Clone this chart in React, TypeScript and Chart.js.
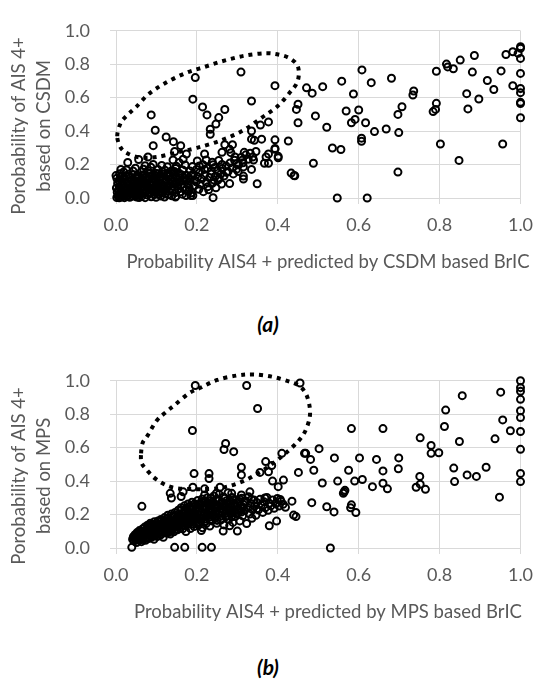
import React, { useEffect, useRef } from "react";
import { Chart, registerables } from "chart.js";

Chart.register(...registerables);

// ---------- data ----------
const axisMin = 0;
const axisMax = 1;
const axisStep = 0.2;

const xTitleA = "Probability AIS4 + predicted by CSDM based BrIC";
const yTitleA = ["Porobability of AIS 4+", "based on CSDM"];
const captionA = "(a)";

const xTitleB = "Probability AIS4 + predicted by MPS based BrIC";
const yTitleB = ["Porobability of AIS 4+", "based on MPS"];
const captionB = "(b)";

// (a) CSDM: sparse points
const csdmSparse: [number, number][] = [
  [0.471, 0.659], [0.485, 0.627], [0.511, 0.666], [0.450, 0.561], [0.446, 0.530], [0.450, 0.450],
  [0.493, 0.491], [0.521, 0.423], [0.558, 0.699], [0.608, 0.766], [0.631, 0.690], [0.587, 0.622],
  [0.569, 0.520], [0.600, 0.526], [0.591, 0.470], [0.582, 0.450], [0.617, 0.450], [0.639, 0.397],
  [0.668, 0.413], [0.699, 0.391], [0.681, 0.716], [0.697, 0.500], [0.707, 0.546], [0.736, 0.640],
  [0.734, 0.616], [0.784, 0.517], [0.790, 0.530], [0.792, 0.566], [0.792, 0.758], [0.817, 0.801],
  [0.820, 0.784], [0.834, 0.773], [0.851, 0.825], [0.886, 0.852], [0.881, 0.753], [0.867, 0.624],
  [0.870, 0.533], [0.897, 0.592], [0.918, 0.703], [0.934, 0.649], [0.952, 0.760], [0.956, 0.323],
  [0.607, 0.358], [0.607, 0.339], [0.535, 0.299], [0.556, 0.290], [0.488, 0.208], [0.442, 0.133],
  [0.697, 0.155], [0.802, 0.323], [0.848, 0.225], [0.547, 0.0], [0.621, 0.0],
  [1.0, 0.905], [1.0, 0.895], [0.994, 0.865], [1.0, 0.835], [1.0, 0.745], [1.0, 0.655], [1.0, 0.63],
  [1.0, 0.572], [1.0, 0.565], [1.0, 0.48], [0.981, 0.875], [0.964, 0.858], [0.981, 0.672],
  [0.309, 0.753], [0.196, 0.720], [0.393, 0.672], [0.335, 0.580], [0.190, 0.591], [0.214, 0.545],
  [0.225, 0.497], [0.269, 0.529], [0.254, 0.481], [0.247, 0.442], [0.233, 0.411], [0.233, 0.381],
  [0.087, 0.497], [0.097, 0.405], [0.092, 0.313], [0.124, 0.365], [0.142, 0.337], [0.160, 0.313],
  [0.145, 0.278], [0.174, 0.263], [0.166, 0.232], [0.426, 0.341], [0.377, 0.455], [0.357, 0.436],
  [0.335, 0.401], [0.335, 0.352], [0.342, 0.345], [0.360, 0.352], [0.393, 0.348], [0.393, 0.291],
  [0.401, 0.249], [0.377, 0.263], [0.371, 0.245], [0.367, 0.208], [0.377, 0.208], [0.346, 0.278],
  [0.317, 0.273], [0.313, 0.227], [0.340, 0.227], [0.335, 0.171], [0.315, 0.131], [0.349, 0.085],
  [0.288, 0.319], [0.281, 0.291], [0.269, 0.319], [0.262, 0.273], [0.284, 0.271], [0.294, 0.245],
  [0.290, 0.144], [0.273, 0.153], [0.252, 0.107], [0.261, 0.083], [0.247, 0.061], [0.240, 0.002],
  [0.219, 0.263], [0.223, 0.227], [0.215, 0.199], [0.219, 0.171], [0.240, 0.199], [0.236, 0.162],
  [0.207, 0.153], [0.186, 0.134], [0.195, 0.107], [0.178, 0.079], [0.185, 0.015], [0.190, 0.015],
  [0.147, 0.006], [0.120, 0.006], [0.433, 0.149], [0.440, 0.134], [0.141, 0.227], [0.149, 0.190],
  [0.137, 0.162], [0.079, 0.245], [0.056, 0.230], [0.029, 0.212], [0.012, 0.171], [0.0, 0.134],
  [0.298, 0.205], [0.315, 0.186], [0.302, 0.159], [0.315, 0.113], [0.229, 0.049], [0.281, 0.086],
  [0.393, 0.296], [0.401, 0.241],
];

// (a) CSDM: dense cluster near the origin
const csdmCluster: [number, number][] = [
  [0.002, 0.003], [0.005, 0.012], [0.008, 0.001], [0.011, 0.022], [0.003, 0.035], [0.014, 0.006],
  [0.018, 0.015], [0.021, 0.002], [0.006, 0.048], [0.016, 0.031], [0.024, 0.027], [0.027, 0.009],
  [0.031, 0.018], [0.009, 0.062], [0.019, 0.044], [0.034, 0.004], [0.036, 0.037], [0.029, 0.052],
  [0.041, 0.012], [0.044, 0.026], [0.013, 0.075], [0.023, 0.068], [0.039, 0.058], [0.047, 0.045],
  [0.051, 0.006], [0.054, 0.019], [0.004, 0.088], [0.033, 0.081], [0.046, 0.071], [0.058, 0.034],
  [0.061, 0.052], [0.057, 0.003], [0.064, 0.011], [0.015, 0.101], [0.026, 0.094], [0.052, 0.088],
  [0.067, 0.029], [0.069, 0.066], [0.072, 0.002], [0.075, 0.043], [0.002, 0.118], [0.037, 0.107],
  [0.043, 0.096], [0.063, 0.082], [0.078, 0.018], [0.081, 0.057], [0.084, 0.033], [0.087, 0.007],
  [0.011, 0.128], [0.022, 0.112], [0.049, 0.118], [0.058, 0.104], [0.074, 0.092], [0.089, 0.076],
  [0.092, 0.048], [0.095, 0.021], [0.099, 0.004], [0.101, 0.064], [0.104, 0.036], [0.108, 0.091],
  [0.111, 0.012], [0.114, 0.053], [0.066, 0.121], [0.081, 0.108], [0.097, 0.103], [0.118, 0.075],
  [0.121, 0.028], [0.124, 0.107], [0.127, 0.061], [0.131, 0.041], [0.134, 0.086], [0.138, 0.013],
  [0.141, 0.118], [0.144, 0.067], [0.147, 0.032], [0.151, 0.096], [0.108, 0.128], [0.088, 0.132],
  [0.071, 0.141], [0.053, 0.136], [0.031, 0.142], [0.019, 0.156], [0.042, 0.162], [0.062, 0.155],
  [0.079, 0.163], [0.098, 0.148], [0.117, 0.142], [0.135, 0.136], [0.154, 0.054], [0.158, 0.121],
  [0.161, 0.078], [0.164, 0.023], [0.168, 0.103], [0.171, 0.047], [0.174, 0.136], [0.177, 0.089],
  [0.181, 0.061], [0.184, 0.112], [0.187, 0.031], [0.191, 0.143], [0.194, 0.074], [0.198, 0.097],
  [0.202, 0.126], [0.205, 0.052], [0.208, 0.082], [0.212, 0.113], [0.216, 0.038], [0.219, 0.138],
  [0.223, 0.095], [0.227, 0.068], [0.231, 0.121], [0.235, 0.144], [0.238, 0.088], [0.242, 0.107],
  [0.246, 0.131], [0.251, 0.162], [0.255, 0.118], [0.259, 0.143], [0.263, 0.176], [0.267, 0.131],
  [0.272, 0.192], [0.277, 0.158], [0.282, 0.21], [0.288, 0.181], [0.293, 0.226], [0.298, 0.172],
  [0.303, 0.198], [0.309, 0.242], [0.314, 0.211], [0.321, 0.258], [0.327, 0.232], [0.332, 0.268],
  [0.338, 0.245], [0.009, 0.145], [0.026, 0.168], [0.048, 0.178], [0.068, 0.172], [0.086, 0.184],
  [0.104, 0.171], [0.121, 0.166], [0.139, 0.158], [0.156, 0.148], [0.113, 0.195], [0.092, 0.201],
  [0.072, 0.193], [0.127, 0.187], [0.148, 0.176], [0.165, 0.168], [0.183, 0.162], [0.199, 0.171],
  [0.171, 0.198], [0.189, 0.188], [0.206, 0.192], [0.226, 0.178], [0.244, 0.183], [0.262, 0.201],
  [0.254, 0.224], [0.238, 0.214], [0.201, 0.222], [0.156, 0.213],
];

// (a) CSDM: extra points filling the solid core of the cluster
const csdmCore: [number, number][] = [
  [0.006, 0.02], [0.013, 0.041], [0.02, 0.058], [0.028, 0.035], [0.035, 0.06], [0.04, 0.075],
  [0.048, 0.012], [0.05, 0.055], [0.055, 0.062], [0.06, 0.018], [0.062, 0.07], [0.065, 0.095],
  [0.07, 0.05], [0.073, 0.078], [0.077, 0.11], [0.08, 0.03], [0.083, 0.088], [0.086, 0.062],
  [0.09, 0.115], [0.093, 0.09], [0.096, 0.035], [0.1, 0.12], [0.103, 0.079], [0.106, 0.022],
  [0.109, 0.105], [0.112, 0.069], [0.116, 0.118], [0.119, 0.045], [0.122, 0.092], [0.125, 0.135],
  [0.128, 0.02], [0.13, 0.074], [0.133, 0.112], [0.136, 0.052], [0.139, 0.098], [0.142, 0.143],
  [0.145, 0.082], [0.148, 0.011], [0.15, 0.125], [0.153, 0.071], [0.157, 0.099], [0.16, 0.038],
  [0.163, 0.138], [0.167, 0.062], [0.17, 0.118], [0.173, 0.015], [0.176, 0.108], [0.18, 0.04],
  [0.01, 0.09], [0.017, 0.115], [0.025, 0.13], [0.034, 0.12], [0.041, 0.14], [0.046, 0.105],
  [0.056, 0.125], [0.066, 0.138], [0.075, 0.125], [0.085, 0.148], [0.095, 0.135], [0.105, 0.145],
  [0.115, 0.158], [0.128, 0.15], [0.145, 0.158],
  [0.001, 0.06], [0.007, 0.105], [0.016, 0.085], [0.022, 0.02], [0.03, 0.1], [0.038, 0.028],
  [0.043, 0.048], [0.052, 0.1], [0.058, 0.082], [0.068, 0.108], [0.076, 0.064], [0.082, 0.128],
  [0.09, 0.098], [0.1, 0.05], [0.107, 0.112], [0.115, 0.03], [0.123, 0.054], [0.132, 0.128],
];

// (b) MPS: sparse points
const mpsSparse: [number, number][] = [
  [0.196, 0.972], [0.323, 0.972], [0.350, 0.834], [0.455, 0.987], [0.189, 0.703], [0.271, 0.625],
  [0.267, 0.589], [0.291, 0.576], [0.410, 0.566], [0.370, 0.517], [0.385, 0.493], [0.377, 0.456],
  [0.356, 0.452], [0.310, 0.483], [0.310, 0.437], [0.193, 0.445], [0.230, 0.445], [0.230, 0.415],
  [0.190, 0.363], [0.451, 0.452], [0.466, 0.566], [0.414, 0.406], [0.401, 0.367], [0.387, 0.400],
  [0.435, 0.280], [0.439, 0.197], [0.445, 0.188], [0.397, 0.161], [0.379, 0.133], [0.300, 0.101],
  [0.265, 0.101], [0.281, 0.133], [0.145, 0.004], [0.170, 0.004], [0.213, 0.004], [0.236, 0.004],
  [0.039, 0.004], [0.064, 0.249], [0.134, 0.327], [0.137, 0.299], [0.157, 0.142], [0.211, 0.105],
  [0.348, 0.234], [0.406, 0.290], [0.368, 0.299], [0.331, 0.336], [0.335, 0.290], [0.310, 0.317],
  [0.286, 0.327], [0.257, 0.363], [0.248, 0.327], [0.219, 0.354], [0.219, 0.317], [0.166, 0.336],
  [0.161, 0.308],
  [0.582, 0.714], [0.660, 0.714], [0.469, 0.566], [0.481, 0.530], [0.502, 0.594], [0.489, 0.465],
  [0.510, 0.389], [0.540, 0.539], [0.548, 0.400], [0.575, 0.465], [0.562, 0.327], [0.564, 0.336],
  [0.566, 0.345], [0.590, 0.400], [0.602, 0.539], [0.609, 0.410], [0.582, 0.258], [0.580, 0.240],
  [0.593, 0.212], [0.539, 0.216], [0.521, 0.247], [0.484, 0.271], [0.530, 0.0], [0.634, 0.367],
  [0.644, 0.530], [0.660, 0.461], [0.660, 0.387], [0.671, 0.354], [0.699, 0.539], [0.698, 0.474],
  [0.752, 0.659], [0.742, 0.363], [0.751, 0.428], [0.752, 0.382], [0.765, 0.351], [0.779, 0.613],
  [0.779, 0.566], [0.798, 0.570], [0.812, 0.727], [0.815, 0.825], [0.856, 0.911], [0.849, 0.637],
  [0.835, 0.478], [0.837, 0.397], [0.868, 0.437], [0.891, 0.428], [0.915, 0.483], [0.937, 0.653],
  [0.948, 0.304], [0.956, 0.766], [0.951, 0.932], [0.975, 0.701],
  [1.0, 1.0], [1.0, 0.959], [1.0, 0.937], [1.0, 0.889], [1.0, 0.821], [1.0, 0.780], [1.0, 0.697],
  [1.0, 0.590], [1.0, 0.446], [1.0, 0.397],
];

// (b) MPS: dense band
const mpsBand: [number, number][] = [
  [0.041, 0.052], [0.043, 0.068], [0.045, 0.041], [0.047, 0.079], [0.049, 0.058], [0.051, 0.033],
  [0.052, 0.092], [0.054, 0.071], [0.056, 0.047], [0.058, 0.104], [0.06, 0.062], [0.061, 0.085],
  [0.063, 0.038], [0.065, 0.113], [0.066, 0.074], [0.068, 0.052], [0.069, 0.097], [0.071, 0.125],
  [0.046, 0.061], [0.053, 0.054], [0.059, 0.079], [0.064, 0.098], [0.067, 0.063],
  [0.072, 0.083], [0.073, 0.046], [0.075, 0.108], [0.076, 0.066], [0.078, 0.136], [0.079, 0.091],
  [0.081, 0.057], [0.082, 0.118], [0.084, 0.077], [0.085, 0.148], [0.087, 0.101], [0.088, 0.064],
  [0.089, 0.129], [0.091, 0.088], [0.092, 0.112], [0.094, 0.052], [0.095, 0.157], [0.096, 0.076],
  [0.098, 0.139], [0.099, 0.097],
  [0.101, 0.121], [0.102, 0.069], [0.104, 0.162], [0.105, 0.088], [0.107, 0.107], [0.108, 0.141],
  [0.11, 0.078], [0.111, 0.171], [0.113, 0.123], [0.114, 0.098], [0.116, 0.152], [0.117, 0.064],
  [0.119, 0.133], [0.12, 0.182], [0.122, 0.111], [0.123, 0.089], [0.125, 0.159], [0.126, 0.141],
  [0.128, 0.196], [0.129, 0.102], [0.131, 0.125], [0.132, 0.171], [0.134, 0.083], [0.135, 0.149],
  [0.137, 0.203], [0.138, 0.118], [0.14, 0.137], [0.141, 0.184], [0.143, 0.097], [0.144, 0.161],
  [0.146, 0.213], [0.147, 0.127], [0.149, 0.148],
  [0.151, 0.176], [0.152, 0.109], [0.154, 0.226], [0.155, 0.139], [0.157, 0.193], [0.158, 0.158],
  [0.16, 0.121], [0.161, 0.241], [0.163, 0.172], [0.164, 0.207], [0.166, 0.134], [0.167, 0.187],
  [0.169, 0.252], [0.17, 0.152], [0.172, 0.221], [0.173, 0.099], [0.175, 0.168], [0.176, 0.198],
  [0.178, 0.263], [0.179, 0.141], [0.181, 0.232], [0.182, 0.183], [0.184, 0.116], [0.185, 0.211],
  [0.187, 0.158], [0.188, 0.274], [0.19, 0.193], [0.191, 0.244], [0.193, 0.128], [0.194, 0.176],
  [0.196, 0.222], [0.197, 0.258], [0.199, 0.151],
  [0.201, 0.203], [0.202, 0.284], [0.204, 0.137], [0.205, 0.238], [0.207, 0.181], [0.208, 0.263],
  [0.21, 0.161], [0.211, 0.216], [0.213, 0.293], [0.214, 0.121], [0.216, 0.247], [0.217, 0.193],
  [0.219, 0.172], [0.22, 0.272], [0.222, 0.229], [0.223, 0.146], [0.225, 0.204], [0.226, 0.301],
  [0.228, 0.257], [0.229, 0.183], [0.231, 0.236], [0.232, 0.131], [0.234, 0.282], [0.235, 0.214],
  [0.237, 0.162], [0.238, 0.262], [0.24, 0.194], [0.242, 0.311], [0.243, 0.243], [0.245, 0.176],
  [0.246, 0.221], [0.248, 0.289], [0.249, 0.148],
  [0.251, 0.256], [0.253, 0.203], [0.255, 0.321], [0.257, 0.234], [0.259, 0.167], [0.261, 0.276],
  [0.263, 0.213], [0.265, 0.248], [0.267, 0.138], [0.269, 0.297], [0.271, 0.186], [0.273, 0.262],
  [0.275, 0.226], [0.277, 0.331], [0.279, 0.172], [0.281, 0.281], [0.283, 0.208], [0.285, 0.243],
  [0.287, 0.302], [0.289, 0.153], [0.291, 0.267], [0.293, 0.221], [0.295, 0.188], [0.297, 0.289],
  [0.299, 0.246],
  [0.302, 0.211], [0.304, 0.276], [0.306, 0.162], [0.309, 0.237], [0.311, 0.298], [0.313, 0.193],
  [0.316, 0.258], [0.318, 0.224], [0.321, 0.281], [0.323, 0.146], [0.326, 0.241], [0.328, 0.306],
  [0.331, 0.203], [0.333, 0.266], [0.336, 0.178], [0.338, 0.229], [0.341, 0.287], [0.343, 0.251],
  [0.346, 0.196], [0.348, 0.272],
  [0.352, 0.228], [0.356, 0.291], [0.359, 0.255], [0.363, 0.213], [0.366, 0.276], [0.369, 0.241],
  [0.373, 0.302], [0.376, 0.226], [0.379, 0.268], [0.383, 0.253], [0.387, 0.287], [0.391, 0.238],
  [0.395, 0.266], [0.399, 0.296], [0.403, 0.251], [0.408, 0.279], [0.413, 0.262], [0.419, 0.243],
];

// (b) MPS: extra points filling the solid core of the band
const mpsCore: [number, number][] = [
  [0.048, 0.049], [0.05, 0.07], [0.055, 0.083], [0.057, 0.06], [0.06, 0.095], [0.062, 0.05],
  [0.066, 0.086], [0.07, 0.072], [0.072, 0.103], [0.074, 0.058], [0.077, 0.092], [0.08, 0.078],
  [0.08, 0.125], [0.083, 0.105], [0.086, 0.088], [0.088, 0.14], [0.09, 0.072], [0.093, 0.125],
  [0.095, 0.105], [0.097, 0.088], [0.1, 0.148],
  [0.103, 0.132], [0.106, 0.096], [0.108, 0.118], [0.11, 0.155], [0.112, 0.085], [0.115, 0.138],
  [0.118, 0.112], [0.12, 0.165], [0.121, 0.098], [0.124, 0.125], [0.127, 0.176], [0.128, 0.148],
  [0.13, 0.092], [0.133, 0.138], [0.136, 0.162], [0.138, 0.105], [0.14, 0.19], [0.142, 0.124],
  [0.145, 0.145], [0.148, 0.172], [0.149, 0.112],
  [0.152, 0.162], [0.154, 0.131], [0.156, 0.205], [0.158, 0.178], [0.16, 0.145], [0.162, 0.228],
  [0.164, 0.19], [0.165, 0.115], [0.168, 0.168], [0.17, 0.208], [0.172, 0.135], [0.174, 0.238],
  [0.176, 0.182], [0.178, 0.155], [0.18, 0.212], [0.182, 0.248], [0.184, 0.165], [0.186, 0.195],
  [0.188, 0.232], [0.19, 0.142], [0.192, 0.208], [0.194, 0.264], [0.196, 0.185], [0.198, 0.238],
  [0.2, 0.172],
  [0.203, 0.222], [0.205, 0.255], [0.207, 0.152], [0.209, 0.198], [0.211, 0.275], [0.213, 0.178],
  [0.215, 0.232], [0.218, 0.209], [0.22, 0.252], [0.221, 0.158], [0.224, 0.188], [0.226, 0.272],
  [0.228, 0.218], [0.23, 0.248], [0.232, 0.168], [0.234, 0.298], [0.236, 0.235], [0.238, 0.198],
  [0.24, 0.276], [0.242, 0.185], [0.244, 0.258], [0.246, 0.205], [0.248, 0.236], [0.25, 0.165],
  [0.253, 0.286], [0.256, 0.219], [0.258, 0.262], [0.261, 0.192], [0.264, 0.231], [0.266, 0.305],
  [0.268, 0.25], [0.27, 0.209], [0.273, 0.282], [0.276, 0.193], [0.278, 0.247], [0.28, 0.225],
  [0.283, 0.266], [0.286, 0.187], [0.288, 0.225], [0.29, 0.289], [0.294, 0.248], [0.296, 0.205],
  [0.3, 0.268], [0.303, 0.232], [0.306, 0.291], [0.31, 0.215], [0.314, 0.242], [0.317, 0.276],
];

// dotted outline (annotation) in data units
const outlineA: [number, number][] = [
  [0.003, 0.37], [0.012, 0.45], [0.03, 0.5], [0.05, 0.545], [0.08, 0.62], [0.12, 0.685],
  [0.17, 0.745], [0.22, 0.785], [0.27, 0.823], [0.32, 0.852], [0.37, 0.866], [0.405, 0.856],
  [0.43, 0.835], [0.448, 0.795], [0.452, 0.742], [0.447, 0.687], [0.43, 0.632], [0.4, 0.55],
  [0.36, 0.48], [0.315, 0.405], [0.26, 0.345], [0.2, 0.3], [0.15, 0.272], [0.1, 0.245],
  [0.06, 0.242], [0.03, 0.265], [0.012, 0.3],
];
const outlineB: [number, number][] = [
  [0.062, 0.566], [0.066, 0.63], [0.078, 0.672], [0.1, 0.76], [0.12, 0.806], [0.145, 0.855],
  [0.18, 0.925], [0.21, 0.96], [0.25, 1.005], [0.3, 1.032], [0.34, 1.038], [0.385, 1.025],
  [0.425, 0.998], [0.452, 0.972], [0.47, 0.92], [0.479, 0.84], [0.478, 0.77], [0.466, 0.69],
  [0.448, 0.632], [0.42, 0.568], [0.39, 0.51], [0.355, 0.452], [0.31, 0.395], [0.26, 0.36],
  [0.2, 0.352], [0.14, 0.362], [0.1, 0.41], [0.075, 0.47], [0.063, 0.51],
];

// ---------- styling ----------
const FONT = "Lato, 'Open Sans', 'DejaVu Sans', sans-serif";
const GRAY_TEXT = "#595959";
const GRID = "#d9d9d9";

const outlinePlugin = {
  id: "dottedOutline",
  afterDatasetsDraw(chart: any, _args: any, opts: any) {
    const pts: [number, number][] = opts && opts.points;
    if (!pts || !pts.length) return;
    const xs = chart.scales.x;
    const ys = chart.scales.y;
    const P = pts.map(([x, y]) => [xs.getPixelForValue(x), ys.getPixelForValue(y)]);
    const n = P.length;
    const ctx = chart.ctx;
    ctx.save();
    ctx.beginPath();
    ctx.moveTo(P[0][0], P[0][1]);
    for (let i = 0; i < n; i++) {
      const p0 = P[(i - 1 + n) % n];
      const p1 = P[i];
      const p2 = P[(i + 1) % n];
      const p3 = P[(i + 2) % n];
      const c1x = p1[0] + (p2[0] - p0[0]) / 6;
      const c1y = p1[1] + (p2[1] - p0[1]) / 6;
      const c2x = p2[0] - (p3[0] - p1[0]) / 6;
      const c2y = p2[1] - (p3[1] - p1[1]) / 6;
      ctx.bezierCurveTo(c1x, c1y, c2x, c2y, p2[0], p2[1]);
    }
    ctx.closePath();
    ctx.setLineDash([4, 5]);
    ctx.lineWidth = 4;
    ctx.lineCap = "butt";
    ctx.strokeStyle = "#000";
    ctx.stroke();
    ctx.restore();
  },
};

const titlesPlugin = {
  id: "axisTitles",
  afterDraw(chart: any, _args: any, opts: any) {
    const ctx = chart.ctx;
    const area = chart.chartArea;
    ctx.save();
    ctx.fillStyle = GRAY_TEXT;
    ctx.font = `${opts.size}px ${FONT}`;
    ctx.textAlign = "center";
    ctx.textBaseline = "alphabetic";
    ctx.fillText(opts.xTitle, opts.xTitleX, area.bottom + opts.xTitleDy);
    const cy = (area.top + area.bottom) / 2 + opts.yTitleDy;
    (opts.yTitle as string[]).forEach((line, i) => {
      ctx.save();
      ctx.translate(opts.yBaseline0 + i * opts.yLineGap, cy);
      ctx.rotate(-Math.PI / 2);
      ctx.textAlign = "center";
      ctx.textBaseline = "alphabetic";
      ctx.fillText(line, 0, 0);
      ctx.restore();
    });
    ctx.restore();
  },
};

type PanelProps = {
  sparse: [number, number][];
  dense: [number, number][];
  core: [number, number][];
  outline: [number, number][];
  xTitle: string;
  yTitle: string[];
  top: number;
};

const CANVAS_W = 546;
const CANVAS_H = 300;
const PLOT_TOP = 16.5;
const PLOT_BOTTOM = 198;
const Y_AXIS_W = 116;
const RIGHT_PAD = 25.5;

function Panel({ sparse, dense, core, outline, xTitle, yTitle, top }: PanelProps) {
  const ref = useRef<HTMLCanvasElement | null>(null);
  useEffect(() => {
    if (!ref.current) return;
    const toXY = (arr: [number, number][]) => arr.map(([x, y]) => ({ x, y }));
    const pointStyle = {
      pointStyle: "circle" as const,
      pointRadius: 3.5,
      pointBorderWidth: 2,
      pointBorderColor: "#000",
      pointBackgroundColor: "rgba(0,0,0,0)",
      showLine: false,
      clip: false as const,
    };
    const tickFont = { family: FONT, size: 18 };
    const chart = new Chart(ref.current, {
      type: "scatter",
      data: {
        datasets: [
          { label: "core", data: toXY(core), ...pointStyle },
          { label: "dense", data: toXY(dense), ...pointStyle },
          { label: "sparse", data: toXY(sparse), ...pointStyle },
        ],
      },
      options: {
        animation: false,
        responsive: false,
        devicePixelRatio: 1,
        layout: { padding: { top: PLOT_TOP, right: RIGHT_PAD, left: 0, bottom: 0 } },
        plugins: {
          legend: { display: false },
          tooltip: { enabled: false },
          dottedOutline: { points: outline },
          axisTitles: {
            size: 18.5,
            xTitle,
            xTitleX: 328,
            xTitleDy: 70,
            yTitle,
            yTitleDy: 11.5,
            yBaseline0: 25,
            yLineGap: 25,
          },
        } as any,
        scales: {
          x: {
            type: "linear",
            min: axisMin,
            max: axisMax,
            afterFit: (s: any) => {
              s.height = CANVAS_H - PLOT_BOTTOM;
            },
            ticks: {
              stepSize: axisStep,
              callback: (v: any) => Number(v).toFixed(1),
              color: GRAY_TEXT,
              font: tickFont,
              padding: 10,
              maxRotation: 0,
            },
            grid: { color: GRID, lineWidth: 1, tickLength: 6, drawTicks: true },
            border: { color: GRID, width: 1 },
          },
          y: {
            type: "linear",
            min: axisMin,
            max: axisMax,
            afterFit: (s: any) => {
              s.width = Y_AXIS_W;
            },
            ticks: {
              stepSize: axisStep,
              callback: (v: any) => Number(v).toFixed(1),
              color: GRAY_TEXT,
              font: tickFont,
              padding: 20,
            },
            grid: { color: GRID, lineWidth: 1, tickLength: 6, drawTicks: true },
            border: { color: GRID, width: 1 },
          },
        },
      },
      plugins: [outlinePlugin, titlesPlugin],
    });
    return () => chart.destroy();
  }, [sparse, dense, core, outline, xTitle, yTitle]);

  return (
    <canvas
      ref={ref}
      width={CANVAS_W}
      height={CANVAS_H}
      style={{ position: "absolute", left: 0, top, width: CANVAS_W, height: CANVAS_H }}
    />
  );
}

const captionStyle = (cy: number): React.CSSProperties => ({
  position: "absolute",
  left: 268,
  top: cy,
  transform: "translate(-50%, -50%)",
  fontFamily: FONT,
  fontWeight: 700,
  fontStyle: "italic",
  fontSize: 21,
  color: "#000",
  whiteSpace: "nowrap",
  lineHeight: 1,
});

export default function App() {
  return (
    <div
      style={{
        position: "absolute",
        left: 0,
        top: 0,
        width: 546,
        height: 686,
        background: "#fff",
        overflow: "hidden",
      }}
    >
      <Panel sparse={csdmSparse} dense={csdmCluster} core={csdmCore} outline={outlineA} xTitle={xTitleA} yTitle={yTitleA} top={0} />
      <div style={captionStyle(323)}>{captionA}</div>
      <Panel sparse={mpsSparse} dense={mpsBand} core={mpsCore} outline={outlineB} xTitle={xTitleB} yTitle={yTitleB} top={350} />
      <div style={captionStyle(666)}>{captionB}</div>
    </div>
  );
}
